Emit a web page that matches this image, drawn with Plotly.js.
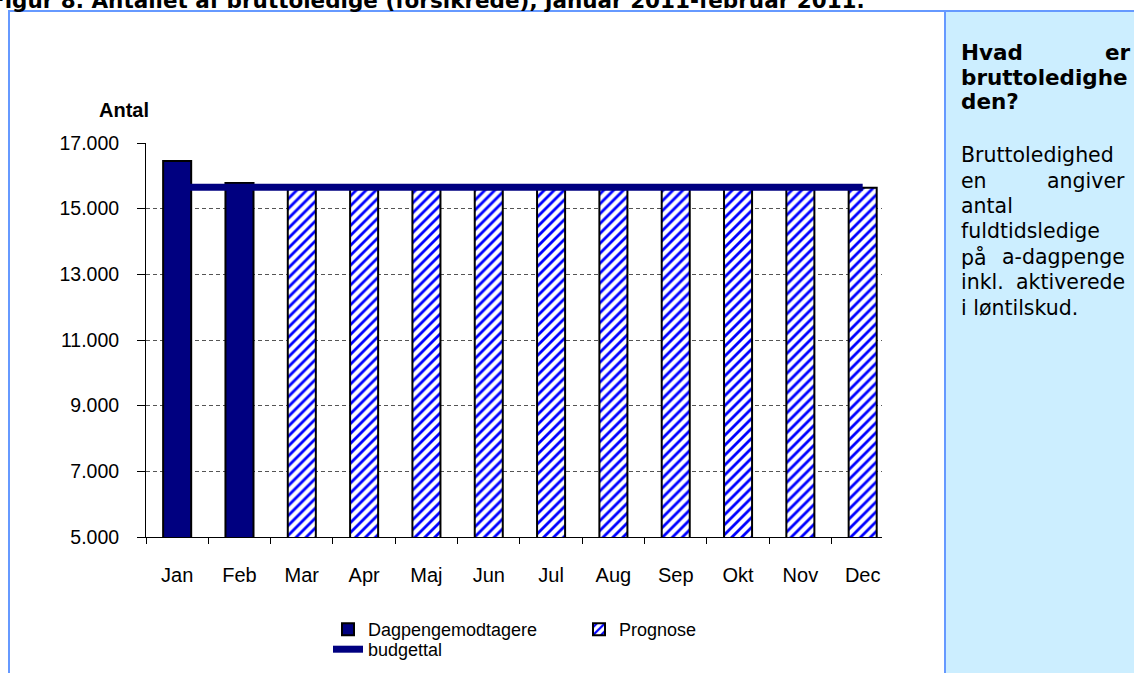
<!DOCTYPE html>
<html>
<head>
<meta charset="utf-8">
<script src="https://cdn.plot.ly/plotly-3.0.1.min.js"></script>
<style>html,body{margin:0;padding:0;background:#fff;}#chart{width:1134px;height:673px;}</style>
</head>
<body>
<div id="chart"></div>
<script>
// ---- data ----
const months = ["Jan","Feb","Mar","Apr","Maj","Jun","Jul","Aug","Sep","Okt","Nov","Dec"];
const dagpengemodtagere = [16450, 15780, null, null, null, null, null, null, null, null, null, null];
const prognose = [null, null, 15640, 15640, 15640, 15640, 15640, 15640, 15640, 15640, 15640, 15640];
const budgettal = [15650, 15650, 15650, 15650, 15650, 15650, 15650, 15650, 15650, 15650, 15650, 15650];
const yTicks = [5000, 7000, 9000, 11000, 13000, 15000, 17000];

const titleText = "Figur 8. Antallet af bruttoledige (forsikrede), januar 2011-februar 2011.";
const seriesNames = ["Dagpengemodtagere", "Prognose", "budgettal"];

// ---- layout helpers (pixel -> paper) ----
const L = 146, R = 882, T = 143, B = 537, W = 1134, H = 673;
const px = x => (x - L) / (R - L);
const py = y => (B - y) / (B - T);

const verdana = "DejaVu Sans, Verdana, sans-serif";
const arial = "Liberation Sans, Arial, sans-serif";

const traces = [
  {
    type: "bar", name: seriesNames[0], x: months, y: dagpengemodtagere,
    width: 0.45, marker: {color: "#000080", line: {color: "#000000", width: 2}},
    legend: "legend", hoverinfo: "x+y"
  },
  {
    type: "bar", name: seriesNames[1], x: months, y: prognose,
    width: 0.45,
    marker: {color: "#ffffff", line: {color: "#000000", width: 2},
      pattern: {shape: "/", fgcolor: "#0000ff", bgcolor: "#ffffff", size: 7, solidity: 0.4}},
    legend: "legend", hoverinfo: "x+y"
  },
  {
    type: "scatter", mode: "lines", name: seriesNames[2], x: months, y: budgettal,
    line: {color: "#000080", width: 7}, legend: "legend2", hoverinfo: "x+y"
  }
];

function ann(text, xPix, yPix, opts) {
  return Object.assign({
    text: text, xref: "paper", yref: "paper", x: px(xPix), y: py(yPix),
    xanchor: "left", yanchor: "middle", showarrow: false,
    font: {family: verdana, size: 20.5, color: "#000"}
  }, opts || {});
}
const bold = t => "<b>" + t + "</b>";
const off = -7; // baseline -> middle
const bf = {family: verdana, size: 21.5, color: "#000"};

const annotations = [
  ann(bold(titleText), -12, 8 + off, {font: {family: verdana, size: 21.5, color: "#000"}}),
  ann(bold("Antal"), 124, 110, {xanchor: "center", font: {family: arial, size: 20, color: "#000"}}),
  // side panel
  ann(bold("Hvad"), 959, 59 + off, {font: bf}),
  ann(bold("er"), 1133, 59 + off, {xanchor: "right", font: bf}),
  ann(bold("bruttoledighe"), 959, 84 + off, {font: bf}),
  ann(bold("den?"), 959, 108 + off, {font: bf}),
  ann("Bruttoledighed", 959, 162 + off),
  ann("en", 959, 187.5 + off),
  ann("angiver", 1127, 187.5 + off, {xanchor: "right"}),
  ann("antal", 959, 213 + off),
  ann("fuldtidsledige", 959, 238 + off),
  ann("på", 959, 264 + off),
  ann("a-dagpenge", 1127, 264 + off, {xanchor: "right"}),
  ann("inkl.", 959, 289 + off),
  ann("aktiverede", 1127, 289 + off, {xanchor: "right"}),
  ann("i løntilskud.", 959, 315 + off)
];

const frameColor = "#6699ff";
const shapes = [
  {type: "rect", xref: "paper", yref: "paper", x0: px(945), x1: px(1140), y0: py(11), y1: py(680),
   fillcolor: "#cceeff", line: {width: 0}, layer: "below"},
  {type: "line", xref: "paper", yref: "paper", x0: px(8), x1: px(1140), y0: py(11), y1: py(11),
   line: {color: frameColor, width: 2}},
  {type: "line", xref: "paper", yref: "paper", x0: px(9), x1: px(9), y0: py(11), y1: py(680),
   line: {color: frameColor, width: 2}},
  {type: "line", xref: "paper", yref: "paper", x0: px(945), x1: px(945), y0: py(11), y1: py(680),
   line: {color: frameColor, width: 2}}
];

const layout = {
  width: W, height: H,
  margin: {l: L, r: W - R, t: T, b: H - B, pad: 0, autoexpand: false},
  paper_bgcolor: "#ffffff", plot_bgcolor: "#ffffff",
  separators: ",.",
  barmode: "overlay",
  showlegend: true,
  font: {family: arial, color: "#000"},
  xaxis: {
    type: "category", range: [-0.5, 11.31],
    showline: true, linecolor: "#000", linewidth: 1,
    ticks: "outside", tickson: "boundaries", ticklen: 6, tickcolor: "#000", tickwidth: 1,
    showgrid: false, zeroline: false,
    tickfont: {family: arial, size: 20, color: "#000"},
    ticklabelstandoff: 20, fixedrange: true
  },
  yaxis: {
    range: [5000, 17000], tickvals: yTicks, tickformat: ",d",
    showline: true, linecolor: "#000", linewidth: 1,
    ticks: "outside", ticklen: 8, tickcolor: "#000", tickwidth: 1,
    showgrid: true, gridcolor: "#555555", gridwidth: 1, griddash: "4px,3px",
    zeroline: false,
    tickfont: {family: arial, size: 19.5, color: "#000"},
    ticklabelstandoff: 14, fixedrange: true
  },
  legend: {
    orientation: "h", x: px(328), y: py(611), xanchor: "left", yanchor: "top",
    bgcolor: "rgba(0,0,0,0)", font: {family: arial, size: 18, color: "#000"},
    entrywidth: 206, entrywidthmode: "pixels", traceorder: "normal", itemclick: false
  },
  legend2: {
    orientation: "h", x: px(328), y: py(631), xanchor: "left", yanchor: "top",
    bgcolor: "rgba(0,0,0,0)", font: {family: arial, size: 18, color: "#000"}, itemclick: false
  },
  annotations: annotations,
  shapes: shapes
};

Plotly.newPlot("chart", traces, layout, {displayModeBar: false, responsive: false});
</script>
</body>
</html>
